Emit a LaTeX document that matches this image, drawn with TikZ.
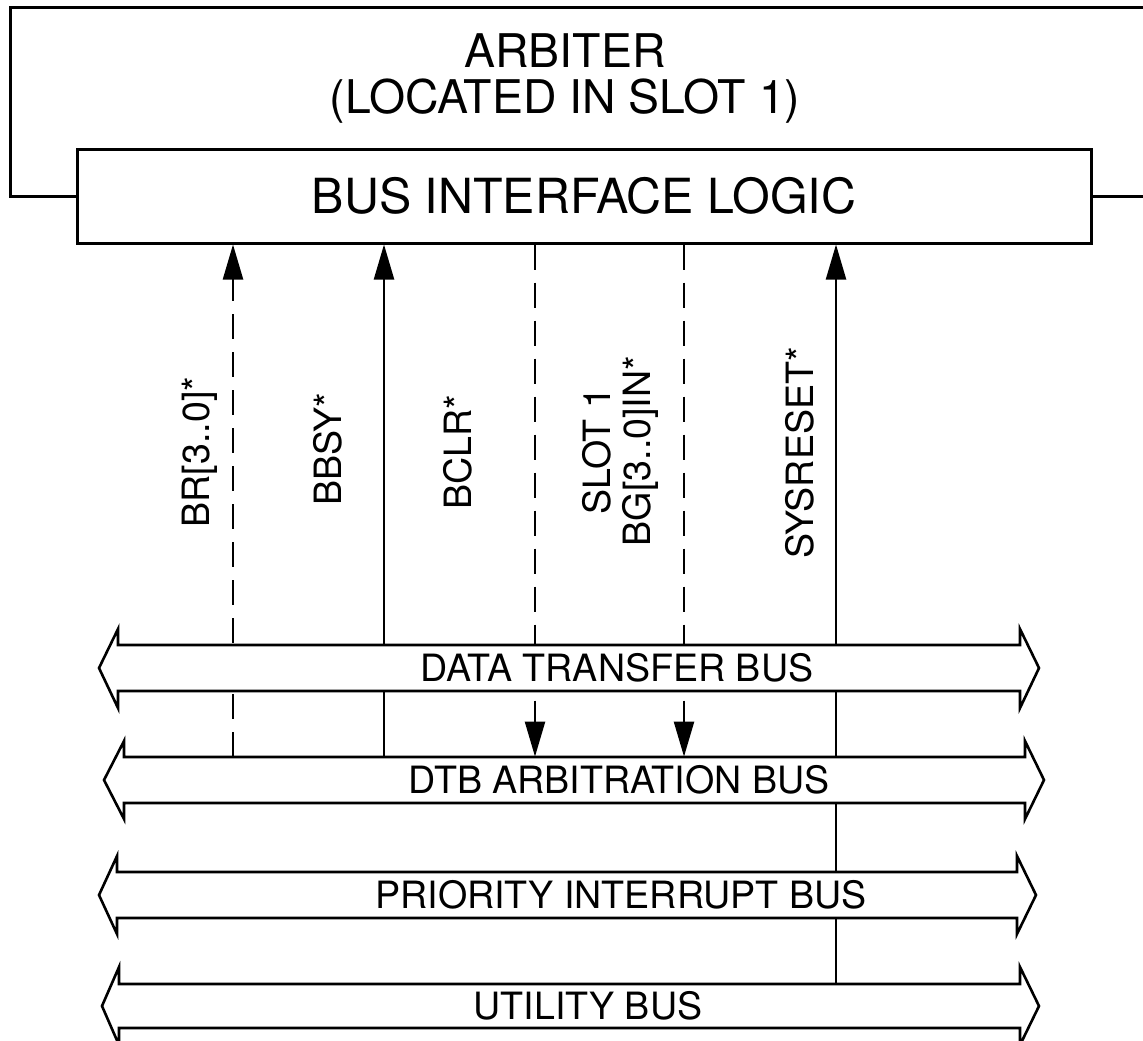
\documentclass[tikz,border=0pt]{standalone}
\usepackage{fontspec}
\setmainfont{TeX Gyre Heros}
\usetikzlibrary{arrows.meta, backgrounds, calc}

\begin{document}
\begin{tikzpicture}[
    x=0.5pt, y=-0.5pt,
    frame/.style={draw=black, line width=1.5pt},
    logicbox/.style={rectangle, draw=black, line width=1.5pt, fill=white, minimum width=507pt, minimum height=47pt, inner sep=0pt, font=\fontsize{24.2}{26}\selectfont},
    titletext/.style={align=center, inner sep=0pt, font=\fontsize{23.2}{23}\selectfont},
    busline/.style={draw=black, fill=white, line width=1.3pt, line join=miter},
    buslabel/.style={minimum height=23pt, inner sep=0pt, font=\fontsize{18.8}{20}\selectfont},
    siglabel/.style={rotate=90, align=center, inner sep=0pt, font=\fontsize{18.8}{20}\selectfont},
    sigline/.style={line width=1.15pt, draw=black},
    dashsig/.style={sigline, dash pattern=on 12.5pt off 6.5pt},
    tip/.style={-{Triangle[length=17.5pt, width=10pt]}},
]
\useasboundingbox (0,0) rectangle (1143,1040);

% Arbiter and its bus interface
\node[titletext] (arb) at (565,78) {ARBITER\\(LOCATED IN SLOT 1)};
\node[logicbox] (iface) at (584,196) {BUS INTERFACE LOGIC};
\draw[frame] (iface.west) -- (10,196) |- (1143,7);
\draw[frame] (iface.east) -- (1143,196);

% Data transfer bus
\draw[busline] (99,668) -- (118,629) -- (118,645) -- (1020,645) -- (1020,629) -- (1039,668)
    -- (1020,708) -- (1020,691) -- (118,691) -- (118,708) -- cycle;
\node[buslabel] (dtbus) at (617,668) {DATA TRANSFER BUS};

% DTB arbitration bus
\draw[busline] (104,780) -- (124,741) -- (124,757) -- (1025,757) -- (1025,741) -- (1044,780)
    -- (1025,819) -- (1025,803) -- (124,803) -- (124,819) -- cycle;
\node[buslabel] (arbbus) at (619,780) {DTB ARBITRATION BUS};

% Priority interrupt bus
\draw[busline] (99,895) -- (117,856) -- (117,872) -- (1017,872) -- (1017,856) -- (1036,895)
    -- (1017,934) -- (1017,918) -- (117,918) -- (117,934) -- cycle;
\node[buslabel] (intbus) at (621,895) {PRIORITY INTERRUPT BUS};

% Utility bus
\draw[busline] (102,1006) -- (119,967) -- (119,984) -- (1020,984) -- (1020,967) -- (1039,1006)
    -- (1020,1045) -- (1020,1028) -- (119,1028) -- (119,1045) -- cycle;
\node[buslabel] (utilbus) at (588,1006) {UTILITY BUS};

% Signal positions
\coordinate (br) at (233,0);
\coordinate (bbsy) at (384,0);
\coordinate (bclr) at (535,0);
\coordinate (bgin) at (684,0);
\coordinate (sysreset) at (836,0);

% Signal lines (behind the buses)
\begin{scope}[on background layer]
\draw[dashsig, tip] (br |- arbbus.north) -- (br |- iface.south);
\draw[sigline, tip] (bbsy |- arbbus.north) -- (bbsy |- iface.south);
\draw[dashsig, tip] (bclr |- iface.south) -- (bclr |- arbbus.north);
\draw[dashsig, tip] (bgin |- iface.south) -- (bgin |- arbbus.north);
\draw[sigline, tip] (sysreset |- utilbus.north) -- (sysreset |- iface.south);
\end{scope}

% Signal names
\node[siglabel] (brlbl) at (200,452) {BR[3..0]*};
\node[siglabel] (bbsylbl) at (328,449) {BBSY*};
\node[siglabel] (bclrlbl) at (458,452) {BCLR*};
\node[siglabel] (bginlbl) at (620,451) {SLOT 1\\BG[3..0]IN*};
\node[siglabel] (sysresetlbl) at (800,453) {SYSRESET*};

\end{tikzpicture}
\end{document}
